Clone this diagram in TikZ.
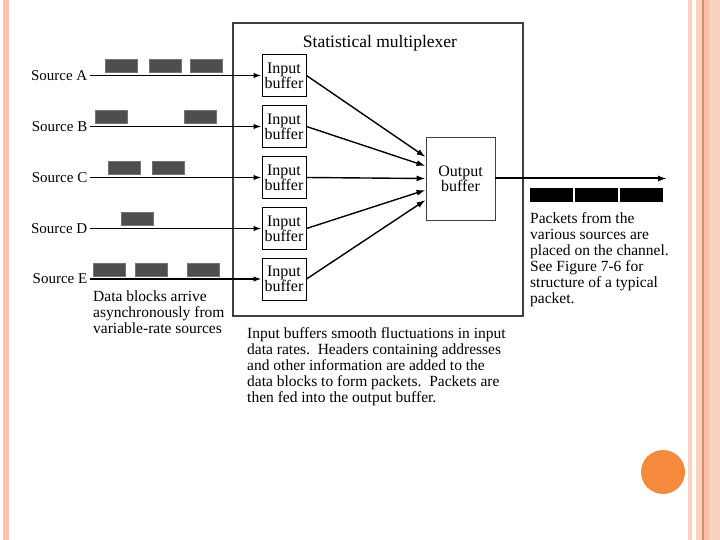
\documentclass[tikz,border=0pt]{standalone}
\usepackage{fontspec}
\setmainfont{Liberation Serif}
\usetikzlibrary{arrows.meta,calc}
\definecolor{stripeA}{RGB}{248,196,176}
\definecolor{stripeB}{RGB}{251,210,194}
\definecolor{stripeLine}{RGB}{222,140,100}
\definecolor{stripeC}{RGB}{250,190,168}
\definecolor{dotorange}{RGB}{245,138,60}
\definecolor{blockgray}{RGB}{78,78,78}
\begin{document}
\begin{tikzpicture}[x=1pt,y=-1pt,
  every node/.style={font=\fontsize{15.5}{16}\selectfont, text=black},
  ibuf/.style={draw, line width=1pt, minimum width=44pt, minimum height=42pt, inner sep=1pt, align=center, font=\fontsize{16}{15}\selectfont},
  obuf/.style={draw=black!75, line width=0.9pt, minimum width=69pt, minimum height=83pt, inner sep=1pt, align=center, font=\fontsize{16}{15}\selectfont},
  datablk/.style={draw=black!55, line width=0.8pt, fill=blockgray, minimum width=32pt, minimum height=13pt, inner sep=0pt},
  pkt/.style={fill=black, minimum width=43pt, minimum height=14pt, inner sep=0pt},
  feed/.style={line width=1.5pt, -{Latex[length=8pt,width=5.5pt]}},
  merge/.style={line width=1.4pt, -{Latex[length=9pt,width=6pt]}},
  srclabel/.style={anchor=east, inner xsep=2pt, inner ysep=0pt, font=\fontsize{15}{16}\selectfont},
  note/.style={anchor=north west, align=left, inner sep=0pt}
]
\useasboundingbox (0,0) rectangle (720,540);
\fill[white] (0,0) rectangle (720,540);
% slide decorations
\fill[stripeA] (3,0) rectangle (9,540);
\fill[stripeB] (688,0) rectangle (692,540);
\fill[stripeB] (696,0) rectangle (702,540);
\fill[stripeLine] (702,0) rectangle (703.5,540);
\fill[stripeC] (703.5,0) rectangle (709,540);
\fill[stripeB] (709,0) rectangle (720,540);
\fill[dotorange] (663,472) circle (22pt);

% multiplexer box
\node[draw=black!75, line width=1.1pt, minimum width=290pt, minimum height=293pt, inner sep=0pt] (mux) at (378,169.5) {};
\node[font=\fontsize{17.5}{18}\selectfont] (title) at (380,43) {Statistical multiplexer};

% input buffers
\node[ibuf] (ib1) at (284,75.5) {Input\\buffer};
\node[ibuf] (ib2) at (284,126.5) {Input\\buffer};
\node[ibuf] (ib3) at (284,177.5) {Input\\buffer};
\node[ibuf] (ib4) at (284,228.5) {Input\\buffer};
\node[ibuf] (ib5) at (284,279) {Input\\buffer};

% output buffer
\node[obuf] (ob) at (460.5,178.5) {Output\\buffer};

% sources
\node[srclabel] (sA) at (89.5,75.5) {Source A};
\node[srclabel] (sB) at (89.5,126.5) {Source B};
\node[srclabel] (sC) at (89.5,177.5) {Source C};
\node[srclabel] (sD) at (89.5,228.5) {Source D};
\node[srclabel] (sE) at (89.5,279) {Source E};

\draw[feed] (sA.east) -- (ib1.west);
\draw[feed] (sB.east) -- (ib2.west);
\draw[feed] (sC.east) -- (ib3.west);
\draw[feed] (sD.east) -- (ib4.west);
\draw[feed] (sE.east) -- (ib5.west);

% data blocks
\node[datablk] (a1) at (121,65.5) {};
\node[datablk] (a2) at (165.5,65.5) {};
\node[datablk] (a3) at (206,65.5) {};
\node[datablk] (b1) at (111,116.5) {};
\node[datablk] (b2) at (200,116.5) {};
\node[datablk] (c1) at (124,167.5) {};
\node[datablk] (c2) at (168,167.5) {};
\node[datablk] (d1) at (137,219) {};
\node[datablk] (e1) at (109,270) {};
\node[datablk] (e2) at (151,270) {};
\node[datablk] (e3) at (203,270) {};

% merge arrows
\draw[merge] (ib1.east) -- ($(ob.west)+(0,-21.5)$);
\draw[merge] (ib2.east) -- ($(ob.west)+(0,-12.5)$);
\draw[merge] (ib3.east) -- (ob.west);
\draw[merge] (ib4.east) -- ($(ob.west)+(0,11.5)$);
\draw[merge] (ib5.east) -- ($(ob.west)+(0,21.5)$);

% output channel
\coordinate (chanEnd) at (667,178.5);
\draw[line width=2pt, -{Latex[length=9pt,width=6pt]}] (ob.east) -- (chanEnd);
\node[pkt] (p1) at (551.5,195) {};
\node[pkt] (p2) at (596.5,195) {};
\node[pkt] (p3) at (641.5,195) {};

% notes
\node[note] (noteData) at (93,291) {Data blocks arrive\\asynchronously from\\variable-rate sources};
\node[note] (noteIn) at (247,327) {Input buffers smooth fluctuations in input\\data rates.\ \ Headers containing addresses\\and other information are added to the\\data blocks to form packets.\ \ Packets are\\then fed into the output buffer.};
\node[note] (notePkt) at (530,212) {Packets from the\\various sources are\\placed on the channel.\\See Figure 7-6 for\\structure of a typical\\packet.};
\end{tikzpicture}
\end{document}
